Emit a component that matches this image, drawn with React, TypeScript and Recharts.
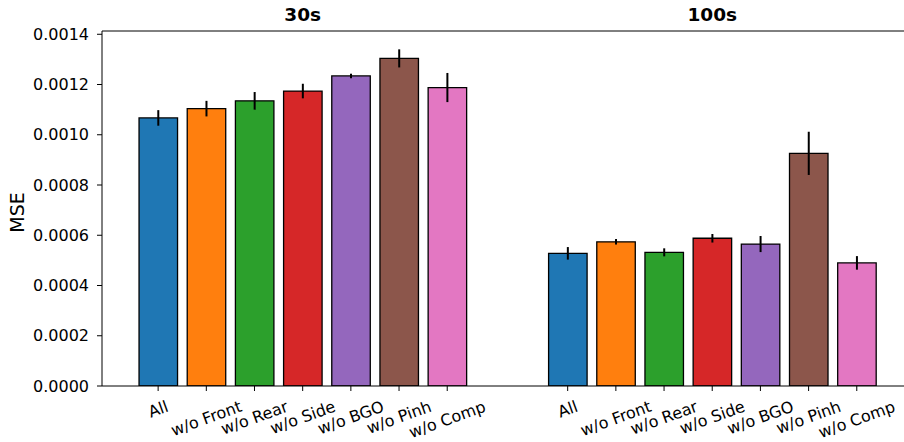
import { BarChart, Bar, XAxis, YAxis, ErrorBar, Cell, ReferenceLine, ReferenceDot } from 'recharts';

const categories = ['All', 'w/o Front', 'w/o Rear', 'w/o Side', 'w/o BGO', 'w/o Pinh', 'w/o Comp'];
const groupTitles = ['30s', '100s'];
const mse30 = [0.001067, 0.001104, 0.001135, 0.001174, 0.001234, 0.001304, 0.001188];
const err30 = [0.000031, 0.000031, 0.000035, 0.000029, 0.000009, 0.000036, 0.000058];
const mse100 = [0.000528, 0.000574, 0.000532, 0.000588, 0.000565, 0.000926, 0.00049];
const err100 = [0.000025, 0.000011, 0.000016, 0.000017, 0.000032, 0.000086, 0.000027];
const yTicks = [0, 0.0002, 0.0004, 0.0006, 0.0008, 0.001, 0.0012, 0.0014];
const colors = ['#1f77b4', '#ff7f0e', '#2ca02c', '#d62728', '#9467bd', '#8c564b', '#e377c2'];

// second group starts 8.5 units after the first (matplotlib x positions)
const GROUP_STRIDE = 8.5;
const Y_MAX = 0.001413;
const FONT = 'DejaVu Sans';

const series = [
  { mse: mse30, err: err30 },
  { mse: mse100, err: err100 },
];

const data = series.flatMap((s, g) =>
  categories.map((cat, i) => ({
    x: g * GROUP_STRIDE + i,
    label: cat,
    mse: s.mse[i],
    err: s.err[i],
    color: colors[i],
  })),
);

const tickPositions = data.map((d) => d.x);
const labelAt = (v: number) => data.find((d) => d.x === v)?.label ?? '';

let ctx: CanvasRenderingContext2D | null = null;
function textWidth(s: string, size: number) {
  if (!ctx) ctx = document.createElement('canvas').getContext('2d');
  if (!ctx) return s.length * size * 0.6;
  ctx.font = `${size}px "${FONT}"`;
  return ctx.measureText(s).width;
}

function RotatedTick(props: any) {
  const { x, y, payload } = props;
  const label = labelAt(payload.value);
  const size = 16;
  const rad = (20 * Math.PI) / 180;
  const w = textWidth(label, size);
  const h = size * 1.164;
  const bh = w * Math.sin(rad) + h * Math.cos(rad);
  const cy = y + bh / 2;
  return (
    <text
      x={x}
      y={cy}
      textAnchor="middle"
      dominantBaseline="central"
      transform={`rotate(-20, ${x}, ${cy})`}
      fontSize={size}
      fontFamily={FONT}
      fill="#000"
    >
      {label}
    </text>
  );
}

function YLabel(props: any) {
  const { viewBox } = props;
  const cx = viewBox.x + 17;
  const cy = viewBox.y + viewBox.height / 2 + 4;
  return (
    <text
      x={cx}
      y={cy}
      textAnchor="middle"
      dominantBaseline="central"
      transform={`rotate(-90, ${cx}, ${cy})`}
      fontSize={19}
      fontFamily={FONT}
      fill="#000"
    >
      MSE
    </text>
  );
}

export default function App() {
  return (
    <div style={{ position: 'absolute', left: 0, top: 0, width: 904, height: 442, overflow: 'hidden', background: '#fff' }}>
      <BarChart width={904} height={442} data={data} margin={{ top: 31, right: 0, bottom: 0, left: 0 }}>
        <XAxis
          dataKey="x"
          type="number"
          domain={[-1.165, 15.48]}
          allowDataOverflow
          ticks={tickPositions}
          interval={0}
          tick={<RotatedTick />}
          tickSize={5}
          tickMargin={6}
          height={56}
          stroke="#000"
        />
        <YAxis
          domain={[0, Y_MAX]}
          allowDataOverflow
          ticks={yTicks}
          tickFormatter={(v: number) => v.toFixed(4)}
          width={102}
          tickSize={5}
          tickMargin={8}
          stroke="#000"
          tick={{ fontSize: 16, fontFamily: FONT, fill: '#000' }}
          label={<YLabel />}
        />
        <ReferenceLine y={Y_MAX} stroke="#000" strokeWidth={1} ifOverflow="visible" />
        {groupTitles.map((t, g) => (
          <ReferenceDot
            key={t}
            x={g * GROUP_STRIDE + (categories.length - 1) / 2}
            y={Y_MAX}
            r={0}
            ifOverflow="visible"
            label={{
              value: t,
              position: 'top',
              offset: 10,
              style: { fontSize: 18.5, fontWeight: 'bold', fontFamily: FONT, fill: '#000' },
            }}
          />
        ))}
        <Bar dataKey="mse" barSize={38.5} stroke="#000" strokeWidth={1.3} isAnimationActive={false}>
          {data.map((d, i) => (
            <Cell key={i} fill={d.color} />
          ))}
          <ErrorBar dataKey="err" direction="y" width={0} stroke="#000" strokeWidth={2} isAnimationActive={false} />
        </Bar>
      </BarChart>
    </div>
  );
}
